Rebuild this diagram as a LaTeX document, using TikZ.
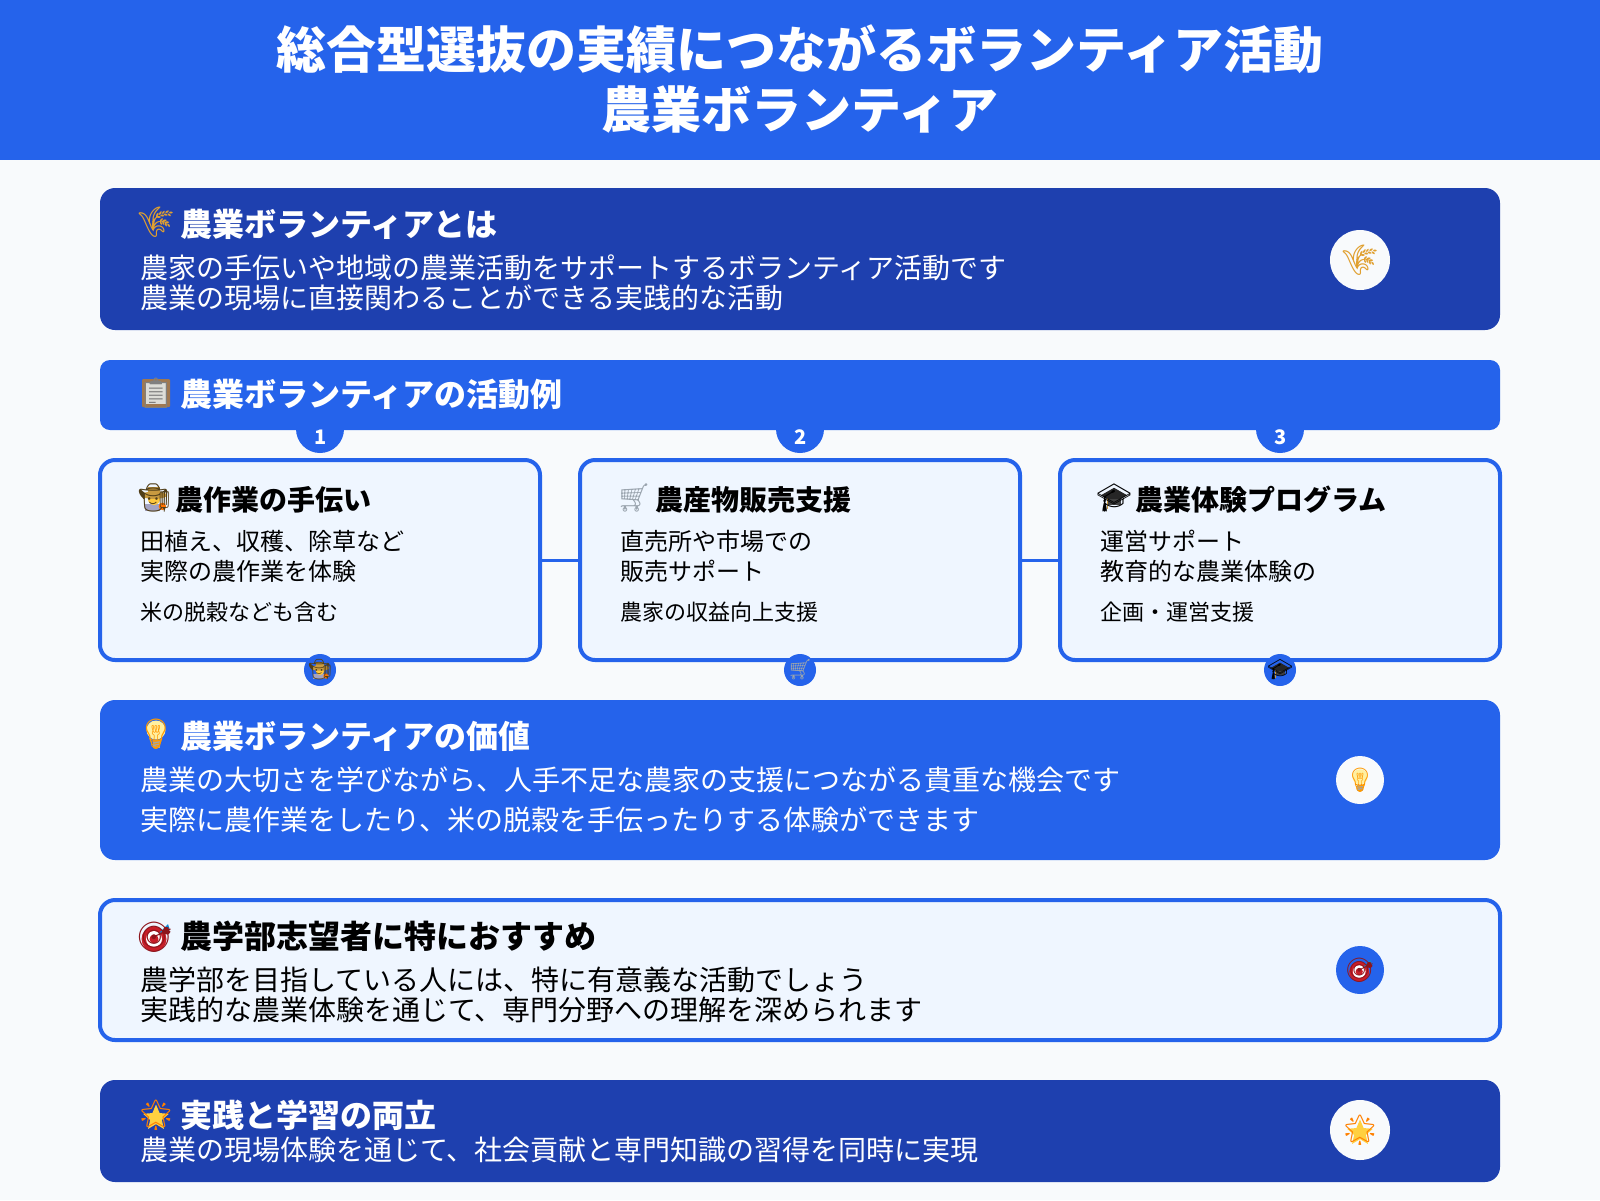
\documentclass[tikz,border=0pt]{standalone}
\usepackage{fontspec}
\setmainfont{Noto Sans CJK JP}
\newfontfamily\emojifont{Noto Emoji}
\usetikzlibrary{positioning, shapes.geometric}
\definecolor{blueMain}{HTML}{2563EB}
\definecolor{blueDark}{HTML}{1E40AF}
\definecolor{pageBg}{HTML}{F8FAFC}
\definecolor{cardBg}{HTML}{EFF6FF}
\definecolor{rice}{HTML}{E0A030}
\definecolor{wood}{HTML}{A07850}
\definecolor{paper}{HTML}{DDDDD8}
\definecolor{hat}{HTML}{C89A40}
\definecolor{skin}{HTML}{FFC83D}
\definecolor{cart}{HTML}{9AA4AE}
\definecolor{bulb}{HTML}{FFF0A0}
\definecolor{dart}{HTML}{C81E28}
\definecolor{starc}{HTML}{FFD040}
\newcommand{\fs}[1]{\fontsize{#1}{#1}\selectfont}
\newcommand{\emo}[2]{{\emojifont\color{#1}#2}}
\tikzset{
  box/.style={rounded corners=#1, minimum width=1400pt, inner sep=0pt},
  darkbox/.style={box=15pt, fill=blueDark},
  mainbox/.style={box=15pt, fill=blueMain},
  card/.style={rounded corners=15pt, draw=blueMain, line width=4pt, fill=cardBg,
    minimum width=440pt, minimum height=200pt, inner sep=0pt},
  line/.style={anchor=base west, inner sep=0pt},
  head/.style={line, font=\fs{32}\bfseries},
  body/.style={line, font=\fs{28}},
  ctitle/.style={line, font=\fs{28}\bfseries, text=black},
  ctext/.style={line, font=\fs{24}, text=black},
  csmall/.style={line, font=\fs{22}, text=black},
  disc/.style={circle, fill=#1, inner sep=0pt},
  link/.style={draw=blueMain, line width=3pt},
  glyph/.style={transform shape, inner sep=0pt, font=\fs{30}},
  % the emoji: a plain fill under a text glyph
  ricepic/.pic={
    \node[glyph] (-g) at (0,0) {\emo{rice}{🌾}};
  },
  clippic/.pic={
    \fill[wood, rounded corners=1pt] (-14,-13) rectangle (14,15);
    \fill[paper] (-10,-10) rectangle (10,12);
    \node[glyph] (-g) at (0,1) {\emo{gray}{📋}};
  },
  farmerpic/.pic={
    \fill[blue!20!gray!60] (-10,6) rectangle (6,14);
    \fill[skin] (0,1) circle (6.5);
    \fill[hat] (0,-3) ellipse (14 and 4);
    \fill[hat] (-6,-3) rectangle (6,-12);
    \fill[orange!90!red] (9,9) circle (4);
    \node[glyph] (-g) at (0,0) {\emo{black!60!hat}{🧑‍🌾}};
  },
  cartpic/.pic={
    \node[glyph] (-g) at (0,0) {\emo{cart}{🛒}};
  },
  cappic/.pic={
    \fill[black!85] (-14,-3) -- (0,-11) -- (14,-3) -- (0,5) -- cycle;
    \fill[black!75] (-8,1) rectangle (8,8);
    \fill[hat] (-8,0) rectangle (-6,12);
    \node[glyph] (-g) at (0,0) {\emo{black}{🎓}};
  },
  bulbpic/.pic={
    \fill[bulb] (0,-4) circle (9.5);
    \fill[gray!70] (-3.5,6) rectangle (3.5,14);
    \node[glyph] (-g) at (0,0) {\emo{orange!80!yellow}{💡}};
  },
  dartpic/.pic={
    \fill[dart] (-1,2) circle (12.5);
    \fill[white] (-1,2) circle (8);
    \fill[dart] (-1,2) circle (4.5);
    \fill[cyan!70!blue] (4,-4) -- (13,-13) -- (15,-7) -- cycle;
    \node[glyph] (-g) at (0,0) {\emo{dart!70!black}{🎯}};
  },
  starpic/.pic={
    \node[star, star points=5, star point ratio=2.2, fill=starc, minimum size=27pt, inner sep=0pt, transform shape] at (0,3) {};
    \node[glyph] (-g) at (0,0) {\emo{orange}{🌟}};
  }
}
\begin{document}
\begin{tikzpicture}[x=1pt,y=-1pt,text=white]
\useasboundingbox (0,0) rectangle (1600,1200);
\fill[pageBg] (0,0) rectangle (1600,1200);
\fill[blueMain] (0,0) rectangle (1600,160);

% title
\node[font=\fs{50}\bfseries, anchor=base] (title1) at (800,68) {総合型選抜の実績につながるボランティア活動};
\node[font=\fs{50}\bfseries, anchor=base] (title2) at (800,128) {農業ボランティア};

% what it is
\node[darkbox, minimum height=142pt] (about) at (800,259) {};
\pic (aboutI) at (156,222) {ricepic};
\node[head] (aboutH) at (180,236) {農業ボランティアとは};
\node[body] (aboutA) at (140,278) {農家の手伝いや地域の農業活動をサポートするボランティア活動です};
\node[body] (aboutB) at (140,308) {農業の現場に直接関わることができる実践的な活動};
\node[disc=pageBg, minimum size=60pt] (aboutC) at (1360,260) {};
\pic (aboutJ) at (aboutC) {ricepic};

% number badges go under the bar
\foreach \n/\x in {1/320,2/800,3/1280}{
  \node[disc=blueMain, minimum size=48pt] (badge\n) at (\x,429) {};
}

% activity bar
\node[mainbox, rounded corners=10pt, minimum height=70pt] (acts) at (800,395) {};
\pic (actsI) at (156,392) {clippic};
\node[head] (actsH) at (180,406) {農業ボランティアの活動例};
\foreach \n/\x in {1/320,2/800,3/1280}{
  \node[font=\fs{20}\bfseries] (num\n) at (\x+1,437) {\n};
}

% the three cards
\node[card] (card1) at (320,560) {};
\node[card] (card2) at (800,560) {};
\node[card] (card3) at (1280,560) {};
\path[link] (card1) edge (card2)
            (card2) edge (card3);

\pic[scale=.93] (i1) at (154,498) {farmerpic};
\node[ctitle] (t1) at (175,510) {農作業の手伝い};
\node[ctext] (a1) at (140,550) {田植え、収穫、除草など};
\node[ctext] (b1) at (140,580) {実際の農作業を体験};
\node[csmall] (c1) at (140,620) {米の脱穀なども含む};

\pic[scale=.93] (i2) at (634,498) {cartpic};
\node[ctitle] (t2) at (655,510) {農産物販売支援};
\node[ctext] (a2) at (620,550) {直売所や市場での};
\node[ctext] (b2) at (620,580) {販売サポート};
\node[csmall] (c2) at (620,620) {農家の収益向上支援};

\pic[scale=.93] (i3) at (1114,498) {cappic};
\node[ctitle] (t3) at (1135,510) {農業体験プログラム};
\node[ctext] (a3) at (1100,550) {運営サポート};
\node[ctext] (b3) at (1100,580) {教育的な農業体験の};
\node[csmall] (c3) at (1100,620) {企画・運営支援};

% small discs on the lower edge
\node[disc=blueMain, minimum size=32pt] (d1) at (320,670) {};
\node[disc=blueMain, minimum size=32pt] (d2) at (800,670) {};
\node[disc=blueMain, minimum size=32pt] (d3) at (1280,670) {};
\pic[scale=.67] (e1) at (d1) {farmerpic};
\pic[scale=.67] (e2) at (d2) {cartpic};
\pic[scale=.67] (e3) at (d3) {cappic};

% value
\node[mainbox, minimum height=160pt] (value) at (800,780) {};
\pic (valueI) at (156,734) {bulbpic};
\node[head] (valueH) at (180,748) {農業ボランティアの価値};
\node[body] (valueA) at (140,790) {農業の大切さを学びながら、人手不足な農家の支援につながる貴重な機会です};
\node[body] (valueB) at (140,830) {実際に農作業をしたり、米の脱穀を手伝ったりする体験ができます};
\node[disc=pageBg, minimum size=48pt] (valueC) at (1360,780) {};
\pic[scale=.8] (valueJ) at (valueC) {bulbpic};

% for agriculture applicants
\node[box=15pt, draw=blueMain, line width=4pt, fill=cardBg, minimum height=140pt] (faculty) at (800,970) {};
\pic (facultyI) at (155,937) {dartpic};
\node[head, text=black] (facultyH) at (180,948) {農学部志望者に特におすすめ};
\node[body, text=black] (facultyA) at (140,990) {農学部を目指している人には、特に有意義な活動でしょう};
\node[body, text=black] (facultyB) at (140,1020) {実践的な農業体験を通じて、専門分野への理解を深められます};
\node[disc=blueMain, minimum size=48pt] (facultyC) at (1360,970) {};
\pic[scale=.8] (facultyJ) at (facultyC) {dartpic};

% both
\node[darkbox, minimum height=102pt] (both) at (800,1131) {};
\pic (bothI) at (156,1115) {starpic};
\node[head] (bothH) at (180,1127) {実践と学習の両立};
\node[body] (bothA) at (140,1160) {農業の現場体験を通じて、社会貢献と専門知識の習得を同時に実現};
\node[disc=pageBg, minimum size=60pt] (bothC) at (1360,1130) {};
\pic (bothJ) at (bothC) {starpic};
\end{tikzpicture}
\end{document}
